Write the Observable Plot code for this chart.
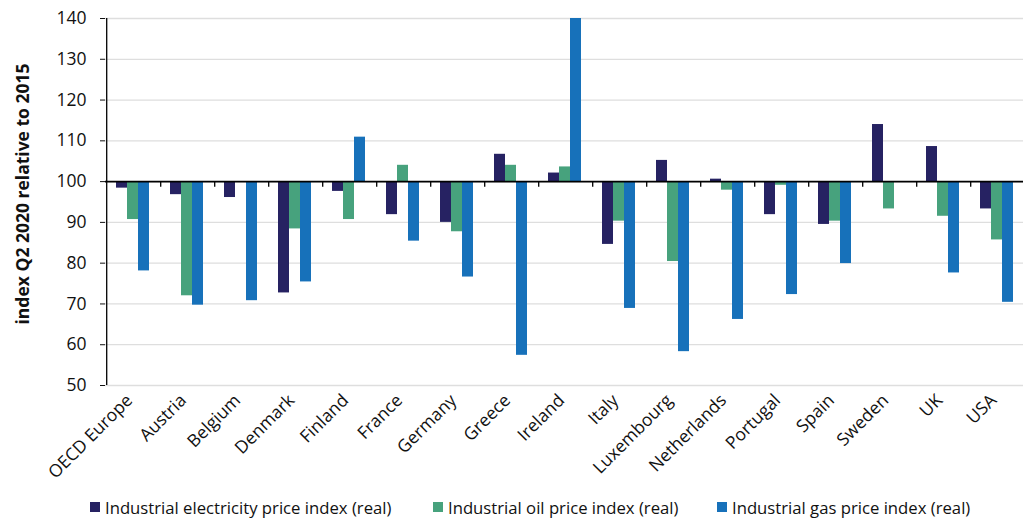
<!DOCTYPE html>
<html>
<head>
<meta charset="utf-8">
<script src="https://cdn.jsdelivr.net/npm/d3@7"></script>
<script src="https://cdn.jsdelivr.net/npm/@observablehq/plot@0.6"></script>
<style>
  html, body { margin: 0; padding: 0; background: #fff; }
  body { width: 1028px; height: 518px; overflow: hidden; font-family: "Open Sans", sans-serif; }
  #legend { position: relative; height: 34px; font-size: 16.7px; color: #111; }
  .item { position: absolute; top: 0; height: 34px; display: flex; align-items: center; white-space: nowrap; }
  .sw { width: 10px; height: 10px; margin-right: 5px; display: inline-block; }
</style>
</head>
<body>
<div id="chart"></div>
<div id="legend"></div>
<script>
const countries = ["OECD Europe","Austria","Belgium","Denmark","Finland","France","Germany","Greece","Ireland","Italy","Luxembourg","Netherlands","Portugal","Spain","Sweden","UK","USA"];
const series = ["Industrial electricity price index (real)","Industrial oil price index (real)","Industrial gas price index (real)"];
const electricity = [98.4, 96.8, 96.1, 72.7, 97.6, 91.9, 90.0, 106.7, 102.1, 84.6, 105.2, 100.6, 91.9, 89.5, 114.0, 108.6, 93.3];
const oil         = [90.7, 72.0, null, 88.4, 90.7, 104.0, 87.7, 104.0, 103.6, 90.3, 80.4, 97.9, 99.1, 90.3, 93.3, 91.5, 85.7];
const gas         = [78.1, 69.7, 70.8, 75.4, 110.9, 85.4, 76.6, 57.4, 140.0, 68.9, 58.3, 66.2, 72.3, 79.9, null, 77.6, 70.4];
const yTicks = [50, 60, 70, 80, 90, 100, 110, 120, 130, 140];
const colors = ["#262262", "#47a27d", "#1771ba"];

const values = [electricity, oil, gas];
const data = [];
countries.forEach((c, i) => series.forEach((s, j) => {
  if (values[j][i] != null) data.push({country: c, series: s, value: values[j][i]});
}));

const width = 1028, height = 490, mL = 100, mR = 0, mT = 18, mB = 105;
const pOut = 0.775;
const fxStep = (width - mL - mR) / countries.length;
const step = fxStep / (series.length + 2 * pOut);
const edgeDx = -(step / 2 + pOut * step);

const chart = Plot.plot({
  width, height,
  marginLeft: mL, marginRight: mR, marginTop: mT, marginBottom: mB,
  style: {fontFamily: "'Open Sans', sans-serif", color: "#111"},
  fx: {domain: countries, padding: 0, label: null},
  x: {domain: series, paddingInner: 0, paddingOuter: pOut, axis: null},
  y: {domain: [50, 140], label: null},
  color: {domain: series, range: colors},
  marks: [
    Plot.gridY(yTicks, {stroke: "#dedede", strokeOpacity: 1, strokeWidth: 1.3}),
    Plot.barY(data, {fx: "country", x: "series", y1: 100, y2: "value", fill: "series", clip: true}),
    Plot.ruleY([100], {stroke: "#000", strokeWidth: 1.6}),
    Plot.ruleX(countries.slice(1), {fx: d => d, x: () => series[0], y1: 100, y2: 98.6, dx: edgeDx, stroke: "#000", strokeWidth: 1.3}),
    Plot.ruleX(countries.slice(0, 1), {fx: d => d, x: () => series[0], y1: 50, y2: 140, dx: edgeDx, stroke: "#000", strokeWidth: 1.3}),
    Plot.axisY({ticks: yTicks, tickSize: 5, tickPadding: 14, fontSize: 17.5, label: "index Q2 2020 relative to 2015", labelAnchor: "center", labelArrow: "none", labelOffset: 89}),
    Plot.axisFx({anchor: "bottom", tickRotate: -45, tickSize: 0, tickPadding: 12, dx: -3, fontSize: 17.5, label: null})
  ]
});
document.getElementById("chart").appendChild(chart);
chart.querySelectorAll("[aria-label='y-axis label'] text, [aria-label='y-axis label']").forEach(el => {
  el.setAttribute("font-weight", "bold");
  el.setAttribute("font-size", "17.5");
});
chart.querySelectorAll("[aria-label='y-axis label'] text").forEach(el => {
  const t = el.getAttribute("transform") || "";
  el.setAttribute("transform", "translate(0,-8) " + t);
});

const legend = document.getElementById("legend");
const lefts = [90, 433, 717];
series.forEach((s, j) => {
  const item = document.createElement("div");
  item.className = "item";
  item.style.left = lefts[j] + "px";
  const sw = document.createElement("span");
  sw.className = "sw";
  sw.style.background = colors[j];
  item.appendChild(sw);
  item.appendChild(document.createTextNode(s));
  legend.appendChild(item);
});
</script>
</body>
</html>
